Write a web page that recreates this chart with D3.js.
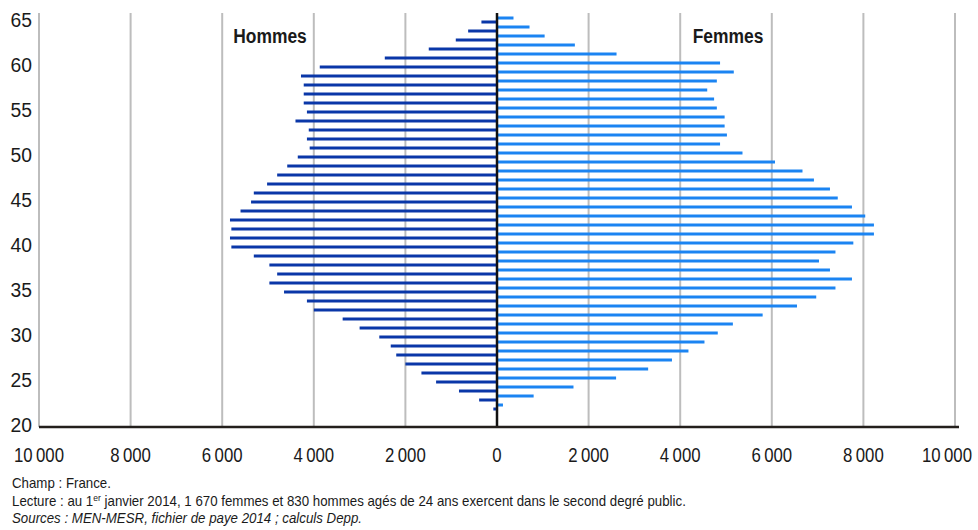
<!DOCTYPE html>
<html>
<head>
<meta charset="utf-8">
<script src="https://cdn.jsdelivr.net/npm/d3@7"></script>
<style>
  body { margin: 0; background: #fff; }
  svg { display: block; }
  text { font-family: "Liberation Sans", Arial, sans-serif; fill: #1a1a1a; }
</style>
</head>
<body>
<svg width="978" height="530"></svg>
<script>
// ages, from the top of the pyramid down
var ages = [65, 64, 63, 62, 61, 60, 59, 58, 57, 56, 55, 54, 53, 52, 51, 50, 49, 48, 47, 46, 45, 44,
            43, 42, 41, 40, 39, 38, 37, 36, 35, 34, 33, 32, 31, 30, 29, 28, 27, 26, 25, 24, 23, 22];
var hommes = [340, 630, 900, 1490, 2450, 3870, 4280, 4220, 4220, 4220, 4150, 4400, 4110, 4150, 4090, 4350, 4580, 4800, 5020, 5310, 5370, 5600,
              5830, 5800, 5830, 5800, 5310, 4970, 4800, 4970, 4650, 4150, 4000, 3370, 3000, 2570, 2320, 2200, 2000, 1650, 1330, 830, 390, 80];
var femmes = [360, 710, 1040, 1700, 2610, 4870, 5170, 4800, 4590, 4740, 4800, 4970, 4970, 5020, 4870, 5360, 6070, 6670, 6920, 7270, 7440, 7750,
              8040, 8230, 8230, 7780, 7390, 7030, 7270, 7750, 7390, 6970, 6550, 5800, 5150, 4820, 4530, 4180, 3820, 3300, 2600, 1670, 800, 130];
var ageAxis = [65, 64, 63, 62, 61, 60, 59, 58, 57, 56, 55, 54, 53, 52, 51, 50, 49, 48, 47, 46, 45, 44, 43,
               42, 41, 40, 39, 38, 37, 36, 35, 34, 33, 32, 31, 30, 29, 28, 27, 26, 25, 24, 23, 22, 21, 20];
var ageTicks = [65, 60, 55, 50, 45, 40, 35, 30, 25, 20];
var xTicks = [-10000, -8000, -6000, -4000, -2000, 0, 2000, 4000, 6000, 8000, 10000];
var notes = ["Champ : France.",
             "Lecture : au 1|er| janvier 2014, 1 670 femmes et 830 hommes agés de 24 ans exercent dans le second degré public.",
             "Sources : MEN-MESR, fichier de paye 2014 ; calculs Depp."];

var svg = d3.select("svg");
var plotTop = 13, plotBottom = 427;

var x = d3.scaleLinear().domain([-10000, 10000]).range([39, 955]);
var y = d3.scaleBand().domain(ageAxis).range([15.5, 429.5]);
var sex = d3.scaleBand().domain(["F", "H"]).range([0, y.bandwidth()]).paddingInner(0.25).paddingOuter(0.25);

var fr = d3.formatLocale({decimal: ",", thousands: "\u2009", grouping: [3], currency: ["", " €"]});
var fmt = fr.format(",d");

// narrow-looking text: squeeze it horizontally
function label(parent, tx, ty, sx) {
    return parent.append("g")
        .attr("transform", "translate(" + tx + "," + ty + ") scale(" + sx + ",1)")
        .append("text")
        .attr("dy", "0.36em");
}

// vertical gridlines
svg.append("g").selectAll("line")
    .data(xTicks.filter(function (d) { return d !== 0; }))
    .enter().append("line")
    .attr("x1", function (d) { return x(d); })
    .attr("x2", function (d) { return x(d); })
    .attr("y1", plotTop)
    .attr("y2", plotBottom)
    .attr("stroke", "#bdbdbd")
    .attr("stroke-width", 2);

var rows = ages.map(function (a, i) { return {age: a, h: hommes[i], f: femmes[i]}; });

// hommes, to the left
svg.append("g").selectAll("rect")
    .data(rows)
    .enter().append("rect")
    .attr("x", function (d) { return x(-d.h); })
    .attr("y", function (d) { return y(d.age) + sex("H"); })
    .attr("width", function (d) { return x(0) - x(-d.h); })
    .attr("height", sex.bandwidth())
    .attr("fill", "#0a37a8");

// femmes, to the right
svg.append("g").selectAll("rect")
    .data(rows)
    .enter().append("rect")
    .attr("x", x(0))
    .attr("y", function (d) { return y(d.age) + sex("F"); })
    .attr("width", function (d) { return x(d.f) - x(0); })
    .attr("height", sex.bandwidth())
    .attr("fill", "#1b84f2");

// centre axis and bottom axis
svg.append("line")
    .attr("x1", x(0)).attr("x2", x(0))
    .attr("y1", plotTop).attr("y2", plotBottom)
    .attr("stroke", "#111").attr("stroke-width", 2.5);
svg.append("line")
    .attr("x1", x(-10000)).attr("x2", x(10000) + 4)
    .attr("y1", plotBottom).attr("y2", plotBottom)
    .attr("stroke", "#231f1c").attr("stroke-width", 2.5);

// age labels
var gy = svg.append("g");
ageTicks.forEach(function (d) {
    label(gy, 32, y(d) + y.bandwidth() / 2 - 1, 0.92)
        .attr("text-anchor", "end")
        .attr("font-size", 21)
        .text(d);
});

// value labels (the last one is pulled in so it stays inside)
var gx = svg.append("g");
xTicks.forEach(function (d) {
    label(gx, Math.min(x(d), 947), 454, 0.8)
        .attr("text-anchor", "middle")
        .attr("font-size", 21)
        .text(fmt(Math.abs(d)));
});

// series titles
label(svg, 270, 35, 0.83).attr("text-anchor", "middle")
    .attr("font-size", 21).attr("font-weight", "bold").text("Hommes");
label(svg, 728, 35, 0.83).attr("text-anchor", "middle")
    .attr("font-size", 21).attr("font-weight", "bold").text("Femmes");

// notes
var noteY = [483, 501, 518];
notes.forEach(function (n, i) {
    var t = label(svg, 12, noteY[i], 0.95).attr("font-size", 14);
    if (i === 2) t.attr("font-style", "italic");
    n.split("|").forEach(function (part, j) {
        var s = t.append("tspan").text(part);
        if (j === 1) s.attr("font-size", 9).attr("baseline-shift", "super");
    });
});
</script>
</body>
</html>
